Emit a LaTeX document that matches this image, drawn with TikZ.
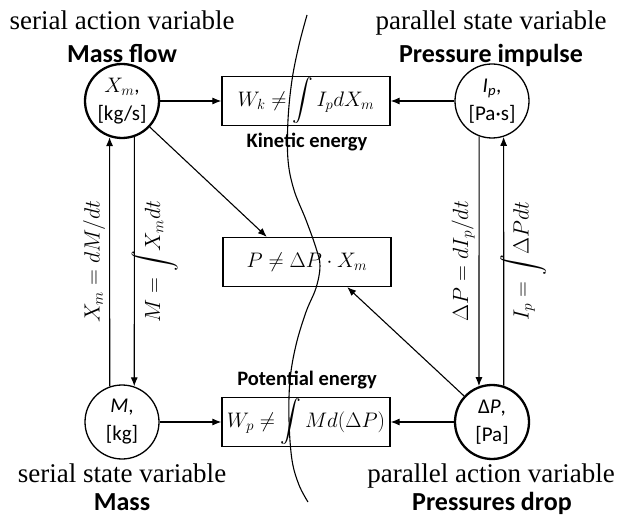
\documentclass[tikz,border=0pt]{standalone}
\usepackage{fix-cm}
\usepackage{exscale}
\usepackage[no-math]{fontspec}
\setmainfont{Carlito}
\newfontfamily\timesfont{Liberation Serif}
\usetikzlibrary{arrows.meta}

\begin{document}
\begin{tikzpicture}[x=1pt,y=-1pt,>={Latex[length=9pt,width=7pt]},
    var/.style={circle,draw,line width=1.3pt,minimum size=74pt,inner sep=0pt,align=center,font=\fontsize{21}{25}\selectfont},
    main/.style={var,line width=2.3pt},
    eq/.style={draw,line width=1.2pt,minimum width=168pt,minimum height=49pt,inner sep=1pt,font=\fontsize{21}{25}\selectfont},
    kind/.style={anchor=base,font=\timesfont\fontsize{27}{30}\selectfont},
    title/.style={anchor=base,font=\bfseries\fontsize{26}{30}\selectfont},
    energy/.style={anchor=base,font=\bfseries\fontsize{20.5}{24}\selectfont},
    rel/.style={rotate=90,inner sep=4pt,font=\fontsize{22}{26}\selectfont}]
        \useasboundingbox (0,0) rectangle (618,518);
        \node[main] (xm) at (122,101) {$X_m$,\\[3pt][kg/s]};
        \node[var] (ip) at (492,101) {\textit{I\textsubscript{p}},\\[3pt][Pa·s]};
        \node[var] (mm) at (122,422) {\textit{M},\\[3pt][kg]};
        \node[main] (dp) at (492,422) {Δ\textit{P},\\[3pt][Pa]};
        \node[eq] (wk) at (306,101) {$W_k\neq\displaystyle\int I_p dX_m$};
        \node[eq] (pp) at (307,262) {$P\neq\Delta P\cdot X_m$};
        \node[eq] (wp) at (306,422) {$W_p\neq\displaystyle\int Md(\Delta P)$};
        \node[kind] (sav) at (122,30) {serial action variable};
        \node[title] (mf) at (122,63) {Mass flow};
        \node[kind] (psv) at (491,30) {parallel state variable};
        \node[title] (pim) at (491,63) {Pressure impulse};
        \node[energy] (ke) at (307,148) {Kinetic energy};
        \node[energy] (pe) at (307,385) {Potential energy};
        \node[kind] (ssv) at (122,482) {serial state variable};
        \node[title] (ms) at (122,510) {Mass};
        \node[kind] (pav) at (491,482) {parallel action variable};
        \node[title] (pd) at (492,510) {Pressures drop};
        \draw[->,line width=1.1pt] (xm) -- (wk);
        \draw[->,line width=1.1pt] (ip) -- (wk);
        \draw[->,line width=1.1pt] (mm) -- (wp);
        \draw[->,line width=1.1pt] (dp) -- (wp);
        \draw[->,line width=1.1pt] (mm.109) -- node[rel,above]{$X_m=dM/dt$} (xm.-109);
        \draw[->,line width=1.1pt] (xm.-71) -- node[rel,below,inner sep=10pt]{$M=\smash{\displaystyle\int} X_m dt$} (mm.71);
        \draw[->,line width=1.1pt] (ip.-110) -- node[rel,above]{$\Delta P=dI_p/dt$} (dp.110);
        \draw[->,line width=1.1pt] (dp.72) -- node[rel,below,inner sep=9pt]{$I_p=\smash{\displaystyle\int}\Delta P dt$} (ip.-72);
        \draw[->,line width=1.1pt] (xm) -- (pp.148);
        \draw[->,line width=1.1pt] (dp) -- (pp.-32);
        \draw[line width=1.1pt] plot[smooth,tension=0.6] coordinates {(307,15) (299,45) (292,80) (288,120) (288,160) (294,190) (306,220) (316,248) (320,266) (316,288) (306,312) (296,345) (290,380) (289,420) (292,460) (299,485) (308,502)};
\end{tikzpicture}
\end{document}
